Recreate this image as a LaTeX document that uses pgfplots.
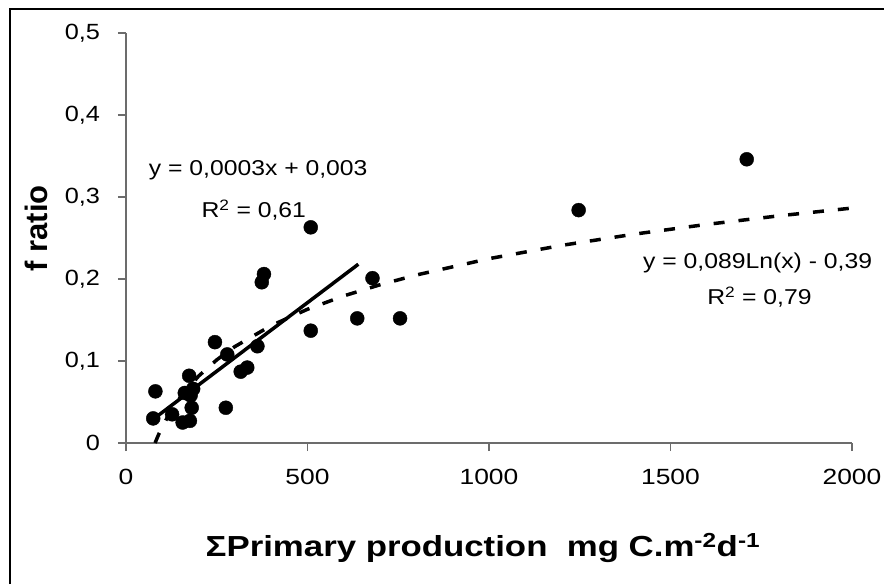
\documentclass[border=0pt]{standalone}
\usepackage{fontspec}
\setmainfont{Liberation Sans}
\usepackage{pgfplots}
\pgfplotsset{compat=1.18}

% measured points (x: mg C m-2 d-1, y: f ratio)
\pgfplotstableread{
x y
75 0.030
81 0.063
127 0.035
156 0.025
162 0.061
178 0.058
174 0.082
176 0.027
181 0.043
185 0.066
245 0.123
275 0.043
279 0.108
316 0.087
334 0.092
362 0.118
374 0.196
380 0.206
509 0.263
509 0.137
637 0.152
679 0.201
755 0.152
1247 0.284
1710 0.346
}\obs

% log trendline read at sample abscissas
\pgfplotstableread{
x y
80 0.000
90 0.0105
100 0.0199
120 0.0361
150 0.056
200 0.0816
250 0.1014
300 0.1176
400 0.1432
500 0.1631
600 0.1794
700 0.1930
800 0.2049
1000 0.2248
1200 0.2410
1400 0.2547
1600 0.2666
1800 0.2771
2000 0.2865
}\logfit

\begin{document}
\begin{tikzpicture}
\useasboundingbox (-126pt,-141pt) rectangle (758pt,443pt);
\draw[line width=1.5pt] (-116pt,-141pt) -- (-116pt,434pt) -- (758pt,434pt);
\begin{axis}[
    scale only axis,
    width=726pt, height=410pt,
    xmin=0, xmax=2000, ymin=0, ymax=0.5,
    axis x line*=bottom, axis y line*=left,
    axis line style={-, draw=gray!85!black, line width=1.3pt},
    xtick={0,500,1000,1500,2000},
    ytick={0,0.1,0.2,0.3,0.4,0.5},
    tick align=outside, major tick length=8pt,
    tick style={draw=gray!85!black, line width=1.3pt},
    tick label style={font=\fontsize{22}{26}\selectfont},
    xticklabel style={/pgf/number format/1000 sep={}, /pgf/number format/assume math mode=true, yshift=-15pt, xscale=1.2},
    yticklabel style={/pgf/number format/use comma, /pgf/number format/assume math mode=true, xshift=-14pt, xscale=1.15},
    xlabel={\fontsize{29}{33}\selectfont\bfseries ΣPrimary production\ \ mg C.m\textsuperscript{-2}d\textsuperscript{-1}},
    xlabel style={at={(axis description cs:0.4917,-0.256)}, anchor=center, xscale=1.2},
    ylabel={\fontsize{31}{35}\selectfont\bfseries f ratio},
    ylabel style={at={(axis description cs:-0.124,0.524)}, anchor=center},
    clip=false,
  ]
  \addplot[only marks, mark=*, mark size=7pt, black] table {\obs};
  \addplot[black, line width=3.5pt] coordinates {(75,0.029) (640,0.218)};
  \addplot[black, line width=3.5pt, dash pattern=on 11pt off 14pt] table {\logfit};
  \node[anchor=west, xscale=1.15, font=\fontsize{21.5}{25}\selectfont] at (axis cs:52,0.333) {y = 0,0003x + 0,003};
  \node[xscale=1.15, font=\fontsize{21.5}{25}\selectfont] at (axis cs:352,0.284) {R\textsuperscript{2} = 0,61};
  \node[xscale=1.15, font=\fontsize{21.5}{25}\selectfont] at (axis cs:1740,0.2195) {y = 0,089Ln(x) - 0,39};
  \node[xscale=1.15, font=\fontsize{21.5}{25}\selectfont] at (axis cs:1745,0.178) {R\textsuperscript{2} = 0,79};
\end{axis}
\end{tikzpicture}
\end{document}
